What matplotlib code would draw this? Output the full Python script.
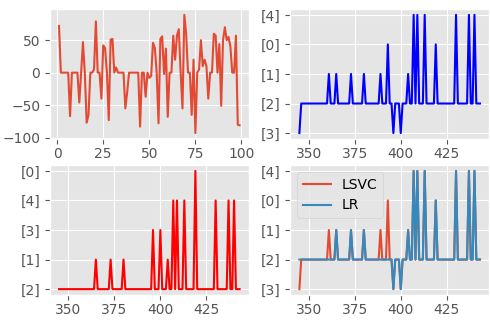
import matplotlib
matplotlib.use("Agg")
import matplotlib.pyplot as plt

plt.style.use('ggplot')
plt.rcParams['xtick.major.pad'] = 2

# top left: raw signal
signal = [72, 0, 0, 0, 0, 0, -67, 0, 0, 0,
          0, -46, 0, 47, 0, -77, -65, 0, 0, 5,
          79, 0, 0, -40, 42, 38, 0, -73, 51, 52,
          0, 8, 0, 0, 0, 0, -55, -30, 0, 0,
          0, 0, 0, 0, -83, 0, 0, -37, 0, -8,
          -5, 46, 38, 0, -78, 52, 56, -2, 37, -68,
          0, 0, 57, 20, 57, 67, 0, -55, 89, 60,
          0, 0, -65, 20, -93, 0, 5, 50, 10, 20,
          10, -40, 0, 0, 60, 57, 0, 44, -51, 50,
          70, 50, 55, 40, 0, 0, 57, -80, -81]
signal_x = list(range(1, len(signal) + 1))

# predicted classes, x = 345..443
idx = list(range(345, 444))
lsvc_codes = ("3222222222" "2222221222" "1222222212" "2222212222" "2222122202"
              "2322232221" "2242422242" "2222022222" "2222242222" "224224222")
lr_codes = ("2222222222" "2222222222" "1222222212" "2222212222" "2222222222"
            "2322232221" "2242422242" "2222022222" "2222242222" "224224222")
lsvc = ["[" + c + "]" for c in lsvc_codes]
lr = ["[" + c + "]" for c in lr_codes]

fig, axes = plt.subplots(2, 2, figsize=(4.9, 3.2), dpi=100)
plt.subplots_adjust(left=0.102, right=0.998, top=0.972, bottom=0.078,
                    wspace=0.21, hspace=0.2)

axes[0, 0].plot(signal_x, signal)
axes[0, 0].set_xticks([0, 25, 50, 75, 100])
axes[0, 0].set_yticks([-100, -50, 0, 50])

axes[0, 1].plot(idx, lsvc, 'b')

axes[1, 0].plot(idx, lr, 'r')

axes[1, 1].plot(idx, lsvc, label='LSVC')
axes[1, 1].plot(idx, lr, label='LR')
axes[1, 1].legend(loc='upper left')

for ax in [axes[0, 1], axes[1, 0], axes[1, 1]]:
    ax.set_xticks([350, 375, 400, 425])

fig.savefig('out.png')
